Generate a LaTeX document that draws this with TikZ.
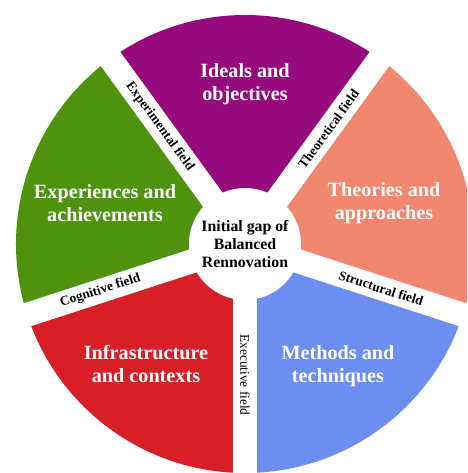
\documentclass[tikz,border=0pt]{standalone}
\usepackage{fontspec}
\setmainfont{Liberation Serif}
\usepackage{tikz}
\definecolor{idealscol}{RGB}{150,10,125}
\definecolor{theoriescol}{RGB}{241,135,110}
\definecolor{methodscol}{RGB}{108,142,240}
\definecolor{infracol}{RGB}{216,30,38}
\definecolor{experiencecol}{RGB}{78,146,14}

\begin{document}
\begin{tikzpicture}[
    sectorlabel/.style={white, align=center, font=\bfseries\fontsize{11.5}{13}\selectfont},
    fieldlabel/.style={black, inner sep=0pt, font=\bfseries\fontsize{7.6}{9}\selectfont},
    gapband/.style={white, line width=0.48cm}]
\clip (-4.9,-4.58) rectangle (4.44,4.88);
\fill [white] (-4.9,-4.58) rectangle (4.44,4.88);
%
\fill [idealscol] (0,0) -- (54:4.58) arc [start angle=54, end angle=126, radius=4.58] -- cycle;
\fill [experiencecol] (0,0) -- (126:4.58) arc [start angle=126, end angle=198, radius=4.58] -- cycle;
\fill [infracol] (0,0) -- (198:4.58) arc [start angle=198, end angle=270, radius=4.58] -- cycle;
\fill [methodscol] (0,0) -- (270:4.58) arc [start angle=270, end angle=342, radius=4.58] -- cycle;
\fill [theoriescol] (0,0) -- (342:4.58) arc [start angle=342, end angle=414, radius=4.58] -- cycle;
%
\draw [gapband] (0,0) -- (54:5);
\draw [gapband] (0,0) -- (126:5);
\draw [gapband] (0,0) -- (198:5);
\draw [gapband] (0,0) -- (270:5);
\draw [gapband] (0,0) -- (342:5);
\fill [white] (0,0) circle [radius=1.12];
%
\node [sectorlabel] (ideals) at (0,3.2) {Ideals and\\objectives};
\node [sectorlabel] (theories) at (2.78,0.82) {Theories and\\approaches};
\node [sectorlabel] (methods) at (1.86,-2.44) {Methods and\\techniques};
\node [sectorlabel] (infra) at (-1.98,-2.4) {Infrastructure\\and contexts};
\node [sectorlabel] (experiences) at (-2.8,0.82) {Experiences and\\achievements};
%
\node [fieldlabel, rotate=-54] (experimental) at (126:2.9) {Experimental field};
\node [fieldlabel, rotate=54] (theoretical) at (54:2.84) {Theoretical field};
\node [fieldlabel, rotate=-18] (structural) at (342:2.86) {Structural field};
\node [fieldlabel, rotate=-90, font=\fontsize{7.6}{9}\selectfont] (executive) at (270:2.62) {Executive field};
\node [fieldlabel, rotate=18] (cognitive) at (198:3.04) {Cognitive field};
%
\node [align=center, font=\bfseries\fontsize{9}{10}\selectfont] (gap) at (0,0) {Initial gap of\\Balanced\\Rennovation};
%%%%%%%%%%%%%%%%%%%%%%%%%%%%%%%
\end{tikzpicture}
\end{document}
